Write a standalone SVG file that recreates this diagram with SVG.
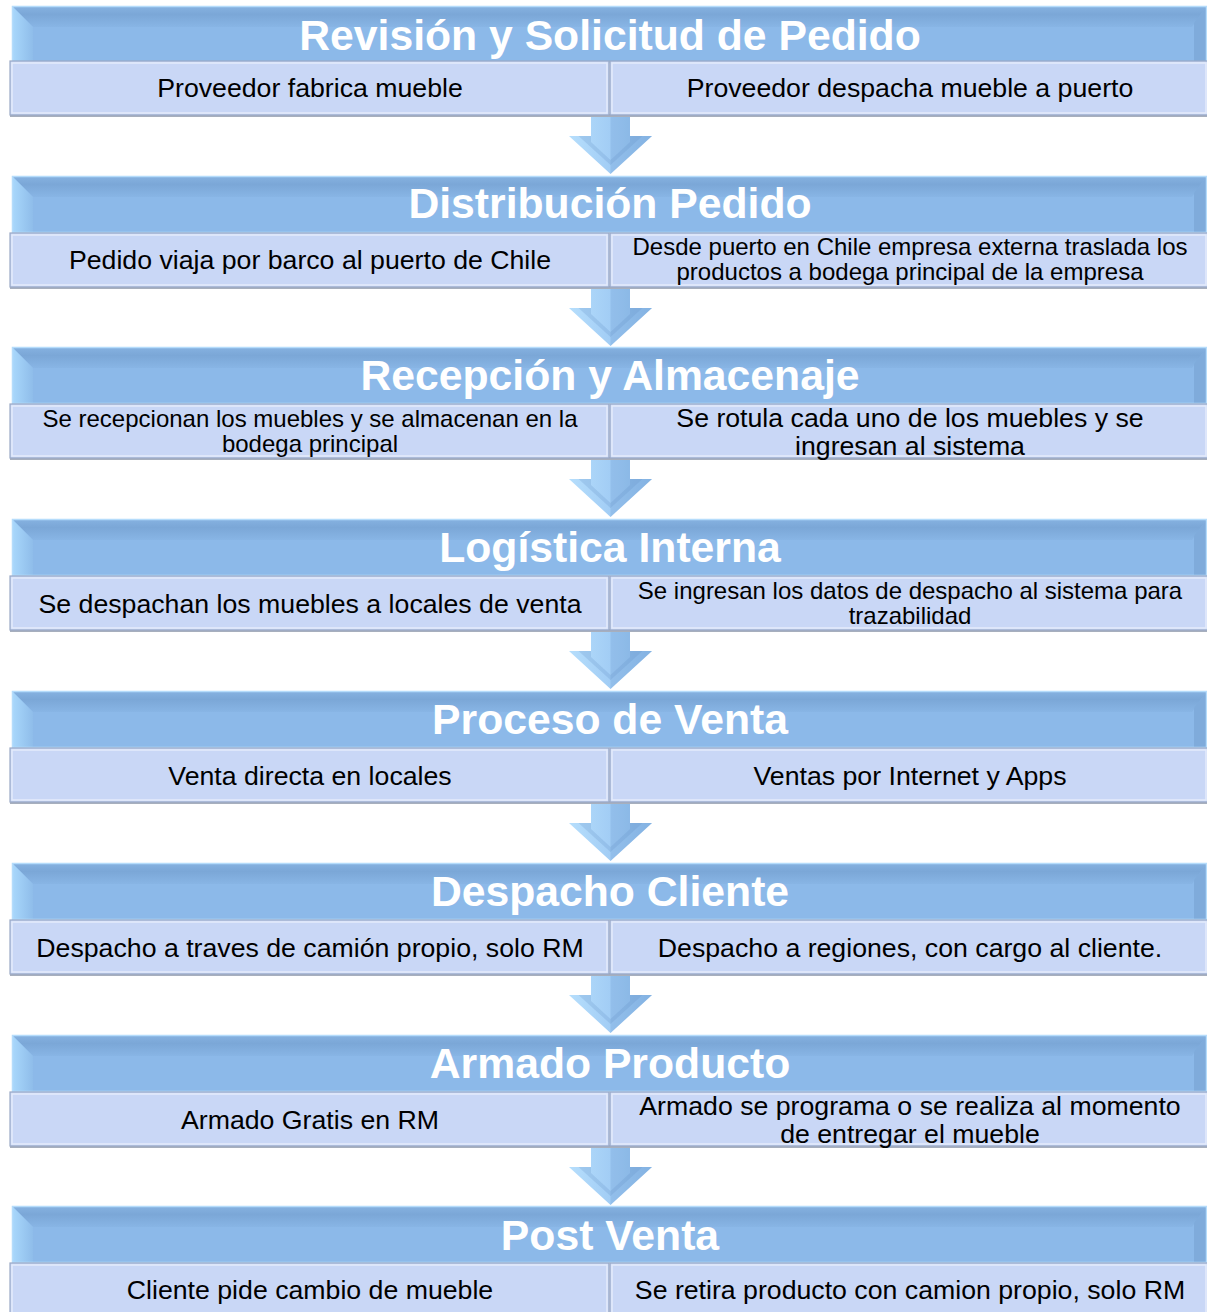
<svg xmlns="http://www.w3.org/2000/svg" width="1207" height="1312" viewBox="0 0 1207 1312">
  <defs>
    <style>
      .hdr { fill: #8cb9e9; }
      .hdr-top { fill: url(#hdrTop); }
      .hdr-left { fill: url(#hdrLeft); }
      .hdr-right { fill: #7fabdb; }
      .hdr-edge { fill: none; stroke: #b5dcfb; stroke-width: 1.5; }
      .hdr-text { font-family: "Liberation Sans", Arial, sans-serif; font-weight: bold; font-size: 42.7px; fill: #ffffff; text-anchor: middle; }
      .sub { fill: #c9d7f6; stroke: #9aa9c6; stroke-width: 1.2; }
      .sub-hi { fill: none; stroke: #e4ebfb; stroke-width: 1.5; }
      .sub-shadow { fill: #a7afbd; }
      .sub-text { font-family: "Liberation Sans", Arial, sans-serif; font-size: 26.7px; fill: #000000; text-anchor: middle; }
      .sub-text.small { font-size: 24px; }
      .arrow-body { fill: url(#arrowGrad); }
      .arrow-shade { fill: #6f9fd3; opacity: 0.3; }
      .arrow-inner { fill: #5f8fc6; opacity: 0.22; }
    </style>
    <linearGradient id="hdrTop" x1="0" y1="0" x2="0" y2="1">
      <stop offset="0" stop-color="#86b2e1"/>
      <stop offset="0.4" stop-color="#7ba7d7"/>
      <stop offset="1" stop-color="#88b5e5"/>
    </linearGradient>
    <linearGradient id="hdrLeft" x1="0" y1="0" x2="1" y2="0">
      <stop offset="0" stop-color="#a9d8fc"/>
      <stop offset="1" stop-color="#8fbdea"/>
    </linearGradient>
    <linearGradient id="arrowGrad" x1="0" y1="0" x2="1" y2="0">
      <stop offset="0" stop-color="#b6defc"/>
      <stop offset="0.5" stop-color="#a2cdf5"/>
      <stop offset="1" stop-color="#8cbbe9"/>
    </linearGradient>
    <!-- bevelled header bar, 1195 x 57 -->
    <g id="hdrShape">
      <rect class="hdr" x="0" y="0" width="1195" height="57"/>
      <polygon class="hdr-top" points="0,0 1195,0 1180,21 21,21"/>
      <polygon class="hdr-left" points="0,0 21,21 21,57 0,57"/>
      <polygon class="hdr-right" points="1195,0 1195,57 1182,57 1182,17"/>
      <rect class="hdr-edge" x="0.5" y="0.5" width="1194" height="56"/>
    </g>
    <!-- downward block arrow, shaft top at y=0 -->
    <g id="downArrow">
      <polygon class="arrow-body" points="-19.5,0 19.5,0 19.5,21 41.5,21 0,59 -41.5,21 -19.5,21"/>
      <polygon class="arrow-shade" points="0,0 19.5,0 19.5,21 41.5,21 0,59"/>
      <polygon class="arrow-inner" points="-19.5,21 -32,21 0,50 32,21 19.5,21 19.5,27 0,45 -19.5,27"/>
    </g>
  </defs>

  <rect width="1207" height="1312" fill="#ffffff"/>

  <!-- connectors between stages -->
  <g id="connectors">
    <use href="#downArrow" x="610.5" y="115"/>
    <use href="#downArrow" x="610.5" y="287"/>
    <use href="#downArrow" x="610.5" y="458"/>
    <use href="#downArrow" x="610.5" y="630"/>
    <use href="#downArrow" x="610.5" y="802"/>
    <use href="#downArrow" x="610.5" y="974"/>
    <use href="#downArrow" x="610.5" y="1146"/>
  </g>

  <!-- stage 1 -->
  <g id="stage1">
    <g id="stage1-header">
      <use href="#hdrShape" x="12" y="6"/>
      <text class="hdr-text" x="610" y="50">Revisión y Solicitud de Pedido</text>
    </g>
    <g id="stage1-a">
      <rect class="sub-shadow" x="10" y="114" width="1197" height="3"/>
      <rect class="sub" x="10" y="61" width="599" height="54"/>
      <rect class="sub-hi" x="12" y="63" width="595" height="50"/>
      <text class="sub-text" x="310" y="97">Proveedor fabrica mueble</text>
    </g>
    <g id="stage1-b">
      <rect class="sub" x="610" y="61" width="598" height="54"/>
      <rect class="sub-hi" x="612" y="63" width="594" height="50"/>
      <text class="sub-text" x="910" y="97">Proveedor despacha mueble a puerto</text>
    </g>
  </g>

  <!-- stage 2 -->
  <g id="stage2">
    <g id="stage2-header">
      <use href="#hdrShape" x="12" y="176"/>
      <text class="hdr-text" x="610" y="218">Distribución Pedido</text>
    </g>
    <g id="stage2-a">
      <rect class="sub-shadow" x="10" y="286" width="1197" height="3"/>
      <rect class="sub" x="10" y="233" width="599" height="54"/>
      <rect class="sub-hi" x="12" y="235" width="595" height="50"/>
      <text class="sub-text" x="310" y="269">Pedido viaja por barco al puerto de Chile</text>
    </g>
    <g id="stage2-b">
      <rect class="sub" x="610" y="233" width="598" height="54"/>
      <rect class="sub-hi" x="612" y="235" width="594" height="50"/>
      <text class="sub-text small" x="910" y="255">Desde puerto en Chile empresa externa traslada los</text>
      <text class="sub-text small" x="910" y="280">productos a bodega principal de la empresa</text>
    </g>
  </g>

  <!-- stage 3 -->
  <g id="stage3">
    <g id="stage3-header">
      <use href="#hdrShape" x="12" y="347"/>
      <text class="hdr-text" x="610" y="390">Recepción y Almacenaje</text>
    </g>
    <g id="stage3-a">
      <rect class="sub-shadow" x="10" y="457" width="1197" height="3"/>
      <rect class="sub" x="10" y="404" width="599" height="54"/>
      <rect class="sub-hi" x="12" y="406" width="595" height="50"/>
      <text class="sub-text small" x="310" y="427">Se recepcionan los muebles y se almacenan en la</text>
      <text class="sub-text small" x="310" y="452">bodega principal</text>
    </g>
    <g id="stage3-b">
      <rect class="sub" x="610" y="404" width="598" height="54"/>
      <rect class="sub-hi" x="612" y="406" width="594" height="50"/>
      <text class="sub-text" x="910" y="427">Se rotula cada uno de los muebles y se</text>
      <text class="sub-text" x="910" y="455">ingresan al sistema</text>
    </g>
  </g>

  <!-- stage 4 -->
  <g id="stage4">
    <g id="stage4-header">
      <use href="#hdrShape" x="12" y="519"/>
      <text class="hdr-text" x="610" y="562">Logística Interna</text>
    </g>
    <g id="stage4-a">
      <rect class="sub-shadow" x="10" y="629" width="1197" height="3"/>
      <rect class="sub" x="10" y="576" width="599" height="54"/>
      <rect class="sub-hi" x="12" y="578" width="595" height="50"/>
      <text class="sub-text" x="310" y="613">Se despachan los muebles a locales de venta</text>
    </g>
    <g id="stage4-b">
      <rect class="sub" x="610" y="576" width="598" height="54"/>
      <rect class="sub-hi" x="612" y="578" width="594" height="50"/>
      <text class="sub-text small" x="910" y="599">Se ingresan los datos de despacho al sistema para</text>
      <text class="sub-text small" x="910" y="624">trazabilidad</text>
    </g>
  </g>

  <!-- stage 5 -->
  <g id="stage5">
    <g id="stage5-header">
      <use href="#hdrShape" x="12" y="691"/>
      <text class="hdr-text" x="610" y="734">Proceso de Venta</text>
    </g>
    <g id="stage5-a">
      <rect class="sub-shadow" x="10" y="801" width="1197" height="3"/>
      <rect class="sub" x="10" y="748" width="599" height="54"/>
      <rect class="sub-hi" x="12" y="750" width="595" height="50"/>
      <text class="sub-text" x="310" y="785">Venta directa en locales</text>
    </g>
    <g id="stage5-b">
      <rect class="sub" x="610" y="748" width="598" height="54"/>
      <rect class="sub-hi" x="612" y="750" width="594" height="50"/>
      <text class="sub-text" x="910" y="785">Ventas por Internet y Apps</text>
    </g>
  </g>

  <!-- stage 6 -->
  <g id="stage6">
    <g id="stage6-header">
      <use href="#hdrShape" x="12" y="863"/>
      <text class="hdr-text" x="610" y="906">Despacho Cliente</text>
    </g>
    <g id="stage6-a">
      <rect class="sub-shadow" x="10" y="973" width="1197" height="3"/>
      <rect class="sub" x="10" y="920" width="599" height="54"/>
      <rect class="sub-hi" x="12" y="922" width="595" height="50"/>
      <text class="sub-text" x="310" y="957">Despacho a traves de camión propio, solo RM</text>
    </g>
    <g id="stage6-b">
      <rect class="sub" x="610" y="920" width="598" height="54"/>
      <rect class="sub-hi" x="612" y="922" width="594" height="50"/>
      <text class="sub-text" x="910" y="957">Despacho a regiones, con cargo al cliente.</text>
    </g>
  </g>

  <!-- stage 7 -->
  <g id="stage7">
    <g id="stage7-header">
      <use href="#hdrShape" x="12" y="1035"/>
      <text class="hdr-text" x="610" y="1078">Armado Producto</text>
    </g>
    <g id="stage7-a">
      <rect class="sub-shadow" x="10" y="1145" width="1197" height="3"/>
      <rect class="sub" x="10" y="1092" width="599" height="54"/>
      <rect class="sub-hi" x="12" y="1094" width="595" height="50"/>
      <text class="sub-text" x="310" y="1129">Armado Gratis en RM</text>
    </g>
    <g id="stage7-b">
      <rect class="sub" x="610" y="1092" width="598" height="54"/>
      <rect class="sub-hi" x="612" y="1094" width="594" height="50"/>
      <text class="sub-text" x="910" y="1115">Armado se programa o se realiza al momento</text>
      <text class="sub-text" x="910" y="1143">de entregar el mueble</text>
    </g>
  </g>

  <!-- stage 8 -->
  <g id="stage8">
    <g id="stage8-header">
      <use href="#hdrShape" x="12" y="1206"/>
      <text class="hdr-text" x="610" y="1250">Post Venta</text>
    </g>
    <g id="stage8-a">
      <rect class="sub" x="10" y="1263" width="599" height="54"/>
      <rect class="sub-hi" x="12" y="1265" width="595" height="50"/>
      <text class="sub-text" x="310" y="1299">Cliente pide cambio de mueble</text>
    </g>
    <g id="stage8-b">
      <rect class="sub" x="610" y="1263" width="598" height="54"/>
      <rect class="sub-hi" x="612" y="1265" width="594" height="50"/>
      <text class="sub-text" x="910" y="1299">Se retira producto con camion propio, solo RM</text>
    </g>
  </g>
</svg>
